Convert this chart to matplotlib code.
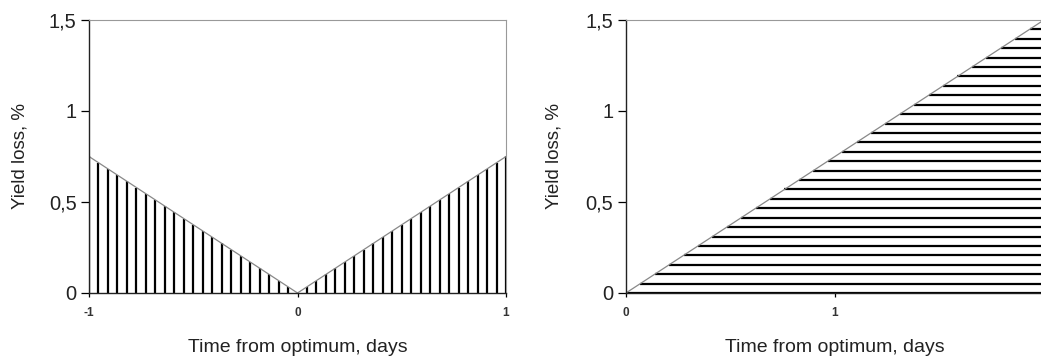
import numpy as np
import matplotlib.pyplot as plt

plt.rcParams['font.family'] = ['Liberation Sans', 'DejaVu Sans']

# left panel: loss on both sides of the optimum
left_days = [-1, 0, 1]
left_loss = [0.75, 0, 0.75]
left_xticks = [-1, 0, 1]

# right panel: loss grows after the optimum only
right_days = [0, 2]
right_loss = [0, 1.5]
right_xticks = [0, 1, 2]

yticks = [0, 0.5, 1, 1.5]
ytick_labels = ["0", "0,5", "1", "1,5"]

fig = plt.figure(figsize=(10.41, 3.57), dpi=100)
ax1 = fig.add_axes([0.0855, 0.1793, 0.4006, 0.7647])
ax2 = fig.add_axes([0.6013, 0.1793, 0.4015, 0.7647])


def style(ax, xlim, xticks):
    ax.set_xlim(*xlim)
    ax.set_ylim(0, 1.5)
    ax.set_xticks(xticks)
    ax.set_xticklabels([str(t) for t in xticks], fontsize=8.5, color="#333333",
                       fontweight="bold")
    ax.set_yticks(yticks)
    ax.set_yticklabels(ytick_labels, fontsize=14.5, color="#222222")
    ax.tick_params(axis="y", direction="out", length=6, width=0.9, pad=3)
    ax.tick_params(axis="x", direction="out", length=3, width=0.9, pad=7)
    for side in ("top", "right"):
        ax.spines[side].set_color("#999999")
        ax.spines[side].set_linewidth(0.8)
    for side in ("left", "bottom"):
        ax.spines[side].set_color("#222222")
        ax.spines[side].set_linewidth(1.0)
    ax.set_xlabel("Time from optimum, days", fontsize=14, color="#222222")
    ax.set_ylabel("Yield loss, %", fontsize=13.5, color="#222222")
    ax.xaxis.set_label_coords(0.5, -0.168)


# vertical hatch under the V
xs = np.concatenate([np.linspace(-1, 0, 23), np.linspace(0, 1, 23)[1:]])
ax1.vlines(xs, 0, np.interp(xs, left_days, left_loss), color="black", linewidth=1.6)
ax1.plot(left_days, left_loss, color="#888888", linewidth=0.9)
style(ax1, (-1, 1), left_xticks)
ax1.yaxis.set_label_coords(-0.146, 0.5)

# horizontal hatch under the ramp
ys = np.linspace(0, 1.5, 30)
x_start = np.interp(ys, right_loss, right_days)
ax2.hlines(ys, x_start, right_days[-1], color="black", linewidth=1.6)
ax2.plot(right_days, right_loss, color="#888888", linewidth=0.9)
style(ax2, (0, 2), right_xticks)
ax2.yaxis.set_label_coords(-0.151, 0.5)

fig.savefig("out.png", dpi=100)
